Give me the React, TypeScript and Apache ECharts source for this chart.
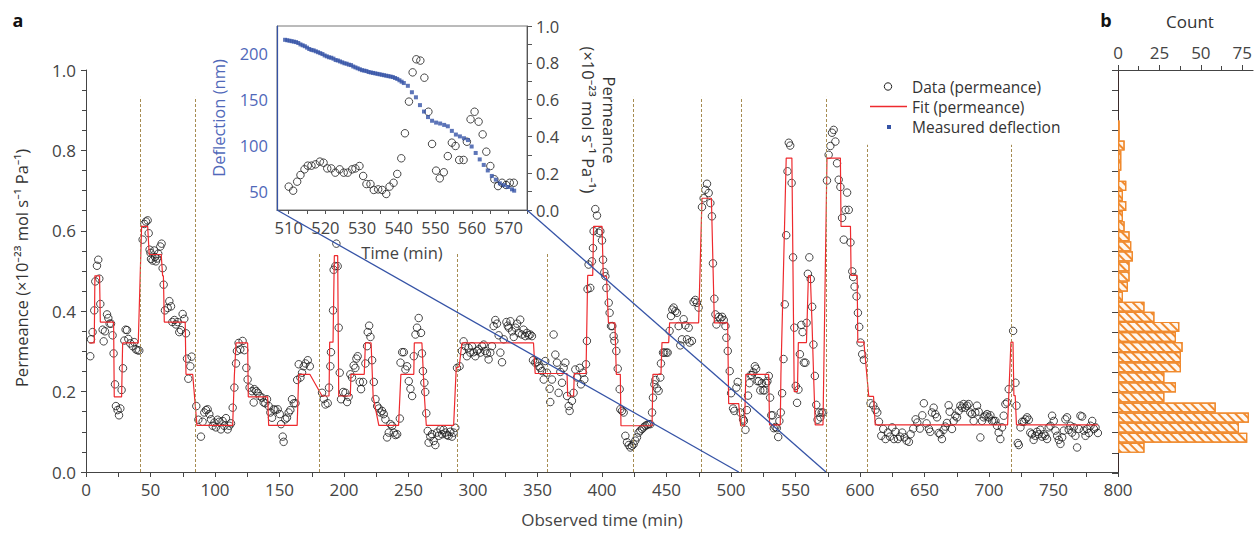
import React, { useEffect, useRef } from "react";
import * as echarts from "echarts";

// ---------- DATA ----------
// Permeance data (time in min, permeance ×10^-23 mol s^-1 Pa^-1), read in segments
const permSegA: [number, number][] = [
  [3.3,0.288],[3.9,0.330],[5.1,0.348],[6.4,0.402],[7.2,0.474],[8.5,0.513],[9.5,0.528],[10.3,0.481],[11.1,0.418],[12.9,0.354],
  [13.7,0.325],[14.7,0.350],[16.3,0.392],[17.3,0.383],[18.3,0.369],[19.4,0.369],[20.6,0.340],[21.4,0.295],[22.5,0.218],[23.2,0.164],
  [24.5,0.154],[25.6,0.141],[26.6,0.158],[27.6,0.204],[28.7,0.258],[29.7,0.327],[30.7,0.354],[31.8,0.353],[32.8,0.331],[34.3,0.320],
  [36.2,0.313],[37.4,0.323],[38.7,0.305],[40.0,0.303],[41.3,0.302],[43.9,0.578],[45.2,0.617],[46.5,0.623],[47.8,0.626],[48.6,0.594],
  [49.3,0.553],[50.0,0.545],[50.4,0.530],[51.6,0.526],[52.9,0.551],[53.5,0.535],[54.2,0.524],[55.0,0.531],[56.0,0.543],[57.6,0.561],
  [58.6,0.568],[59.4,0.507],[60.2,0.466],[61.2,0.402],[63.3,0.408],[64.6,0.425],[65.9,0.412],[66.9,0.373],[68.5,0.378],[69.7,0.367],
  [71.0,0.373],[72.3,0.348],[73.6,0.353],[74.9,0.393],[76.2,0.381],[77.5,0.345],[78.3,0.282],[79.3,0.232],[80.9,0.263],[81.9,0.287],
  [85.5,0.164],[87.1,0.130],[89.1,0.088],[90.4,0.125],[91.7,0.148],[93.0,0.154],[94.3,0.156],[95.6,0.144],[96.9,0.131],[98.2,0.115],
  [99.5,0.123],[100.7,0.111],[102.0,0.130],[103.3,0.125],[104.6,0.106],[105.9,0.127],[107.2,0.115],[108.5,0.134],[109.8,0.106],[111.1,0.115],
  [112.4,0.121],[113.7,0.160],[115.0,0.210],[116.3,0.270],[117.0,0.301],[118.3,0.321],[119.6,0.305],[121.4,0.326],[122.7,0.303],[124.3,0.259],
  [125.3,0.230],[126.8,0.210]
];
const permSegB: [number, number][] = [
  [128.7,0.201],[130.0,0.173],[130.5,0.206],[132.0,0.201],[133.1,0.197],[134.6,0.189],[136.4,0.185],[137.7,0.173],[139.0,0.171],[140.3,0.181],
  [141.6,0.164],[142.9,0.148],[144.2,0.135],[145.5,0.156],[146.8,0.154],[148.6,0.156],[150.2,0.144],[151.2,0.119],[152.5,0.088],[153.2,0.075],
  [154.5,0.131],[155.8,0.135],[157.1,0.148],[158.4,0.154],[159.7,0.181],[161.1,0.171],[162.4,0.171],[163.7,0.229],[164.9,0.268],[166.2,0.235],
  [167.5,0.247],[168.8,0.263],[170.1,0.270],[171.9,0.278],[173.5,0.263],[183.0,0.197],[184.3,0.182],[185.6,0.168],[187.4,0.171],[188.4,0.210],
  [189.4,0.263],[189.9,0.298],[191.5,0.402],[192.0,0.503],[193.3,0.512],[194.1,0.568],[195.1,0.512],[195.9,0.359],[196.7,0.247],[197.7,0.181],
  [199.3,0.199],[201.1,0.197],[202.4,0.174],[203.6,0.187],[204.9,0.243],[206.2,0.235],[207.5,0.265],[208.8,0.259],[209.6,0.282],[210.6,0.288],
  [212.2,0.224],[213.2,0.206],[214.8,0.224],[216.6,0.270],[217.9,0.313],[218.4,0.348],[219.5,0.364],[220.5,0.336],[221.8,0.278],[223.1,0.224],
  [224.4,0.181],[225.7,0.164],[227.0,0.158],[228.3,0.148],[229.5,0.152],[230.8,0.144],[232.1,0.131],[233.4,0.086],[234.7,0.098],[236.0,0.119],
  [237.3,0.115],[238.6,0.098],[239.9,0.092],[241.2,0.094],[243.3,0.133],[243.8,0.272],[245.1,0.298],[246.4,0.298],[247.6,0.255],[248.9,0.263],
  [250.2,0.226],[251.5,0.207],[252.8,0.189],[254.1,0.288],[255.4,0.342],[256.6,0.359],[257.9,0.383]
];
const permSegC: [number, number][] = [
  [259.7,0.346],[260.4,0.295],[261.2,0.251],[262.3,0.222],[263.0,0.199],[263.8,0.146],[264.9,0.102],[265.6,0.073],[266.9,0.088],[268.2,0.094],
  [269.5,0.077],[270.8,0.067],[272.1,0.098],[273.4,0.090],[274.7,0.106],[276.0,0.094],[277.2,0.105],[278.5,0.098],[279.8,0.092],[281.1,0.090],
  [282.4,0.100],[283.7,0.088],[285.0,0.098],[286.3,0.110],[287.6,0.259],[289.6,0.263],[291.4,0.301],[292.7,0.325],[294.0,0.313],[295.3,0.288],
  [296.6,0.309],[297.9,0.297],[299.2,0.313],[300.5,0.298],[301.8,0.288],[303.1,0.301],[304.4,0.305],[305.7,0.297],[307.0,0.313],[308.3,0.317],
  [309.5,0.301],[310.8,0.295],[312.1,0.280],[313.4,0.297],[314.7,0.313],[316.0,0.363],[317.3,0.378],[318.6,0.369],[319.9,0.340],[321.2,0.297],
  [322.5,0.273],[323.8,0.330],[325.9,0.373],[326.9,0.364],[327.7,0.359],[329.0,0.375],[330.3,0.350],[331.6,0.336],[332.9,0.359],[334.2,0.369],
  [335.4,0.346],[336.6,0.379],[337.9,0.342],[339.2,0.354],[340.5,0.338],[341.8,0.346],[343.1,0.340],[344.4,0.342],[345.7,0.338],[346.5,0.278],
  [348.3,0.272],[349.6,0.273],[350.9,0.263],[352.2,0.259],[353.5,0.251],[354.8,0.230],[356.0,0.276],[357.3,0.247],[359.4,0.207],[359.9,0.174],
  [361.2,0.230],[362.5,0.342],[363.8,0.292],[365.1,0.272],[366.4,0.197],[367.7,0.249],[369.0,0.222],[370.3,0.259],[371.6,0.272],[372.9,0.189],
  [374.2,0.164],[374.9,0.152],[376.7,0.177],[378.0,0.197],[379.3,0.255],[380.6,0.235],[382.7,0.259],[383.7,0.218],[385.3,0.247],[386.3,0.230],
  [387.6,0.268],[388.3,0.326],[388.8,0.455],[389.6,0.516]
];
const permSegD: [number, number][] = [
  [390.9,0.458],[392.2,0.524],[393.0,0.557],[393.5,0.599],[394.8,0.654],[396.1,0.638],[397.4,0.595],[398.7,0.599],[400.0,0.576],[400.8,0.528],
  [401.8,0.497],[402.6,0.487],[403.4,0.458],[405.2,0.421],[405.9,0.396],[407.0,0.363],[408.0,0.363],[409.0,0.338],[409.6,0.326],[411.1,0.301],
  [412.2,0.257],[413.7,0.206],[414.2,0.156],[415.5,0.152],[416.8,0.148],[418.1,0.090],[419.4,0.074],[420.7,0.067],[422.0,0.061],[423.2,0.065],
  [424.5,0.069],[425.8,0.078],[427.1,0.086],[428.4,0.098],[429.7,0.103],[431.0,0.107],[432.3,0.111],[433.6,0.115],[434.9,0.117],[436.2,0.119],
  [437.5,0.119],[438.8,0.148],[439.5,0.185],[440.6,0.218],[441.4,0.229],[442.6,0.208],[443.9,0.202],[445.2,0.235],[445.7,0.270],[447.3,0.297],
  [448.3,0.297],[449.9,0.297],[450.9,0.297],[452.4,0.351],[453.5,0.388],[454.5,0.404],[455.5,0.409],[456.8,0.400],[458.1,0.396],[459.4,0.363],
  [460.7,0.315],[462.0,0.330],[463.3,0.380],[464.6,0.365],[465.9,0.330],[467.2,0.359],[467.9,0.322],[469.7,0.326],[471.0,0.423],[472.3,0.428],
  [473.6,0.421],[474.9,0.409],[477.5,0.659],[478.8,0.681],[480.1,0.702],[481.4,0.717],[482.7,0.694],[484.0,0.669],[485.2,0.636],[486.0,0.519],
  [487.1,0.431],[487.9,0.392],[488.7,0.367],[490.5,0.386],[491.8,0.381],[493.1,0.386],[494.4,0.378],[495.7,0.363],[496.4,0.334],[497.5,0.301],
  [499.0,0.251],[500.1,0.196],[501.6,0.158],[502.6,0.152],[504.2,0.210],[505.2,0.224],[507.3,0.148],[509.4,0.131]
];
// Inset window (also part of the main record)
const insetPerm: [number, number][] = [
  [510.0,0.127],[511.2,0.105],[512.3,0.154],[513.2,0.190],[514.3,0.221],[515.2,0.241],[516.2,0.241],[517.3,0.248],[518.5,0.263],[519.5,0.257],
  [520.5,0.226],[521.6,0.226],[522.7,0.203],[523.9,0.221],[525.0,0.203],[526.1,0.203],[527.3,0.221],[528.2,0.226],[529.3,0.239],[530.3,0.185],
  [531.2,0.141],[532.3,0.141],[533.2,0.109],[534.4,0.112],[535.5,0.109],[536.6,0.087],[537.5,0.127],[538.6,0.148],[539.6,0.196],[540.7,0.281],
  [541.7,0.417],[542.8,0.589],[543.8,0.748],[544.8,0.819],[545.9,0.812],[547.0,0.719],[548.1,0.534],[549.1,0.359],[550.2,0.214],[551.2,0.172],
  [552.3,0.205],[553.4,0.293],[554.5,0.366],[555.5,0.348],[556.5,0.272],[557.7,0.272],[558.6,0.371],[559.6,0.493],[560.7,0.534],[561.8,0.480],
  [562.9,0.411],[563.9,0.317],[565.0,0.239],[566.1,0.167],[567.1,0.130],[568.2,0.148],[569.3,0.136],[570.3,0.148],[571.4,0.148]
];
const permSegE: [number, number][] = [
  [574.4,0.725],[575.7,0.789],[577.0,0.811],[578.3,0.844],[579.6,0.851],[580.9,0.822],[582.2,0.768],[583.5,0.727],[584.8,0.709],[586.1,0.632],
  [587.4,0.578],[588.7,0.652],[590.0,0.695],[591.3,0.652],[592.6,0.571],[594.0,0.499],[594.7,0.485],[595.8,0.461],[597.3,0.437],[598.4,0.396],
  [599.4,0.361],[600.4,0.322],[601.7,0.293],[603.0,0.279],[608.2,0.171],[610.3,0.166],[612.1,0.155],[613.4,0.148],[614.7,0.125],[616.5,0.090],
  [618.0,0.107],[619.8,0.082],[621.6,0.098],[623.2,0.088],[625.0,0.111],[626.3,0.082],[627.6,0.100],[629.4,0.082],[630.9,0.088],[632.7,0.098],
  [634.5,0.086],[636.1,0.078],[637.9,0.075],[639.2,0.094],[641.3,0.108],[643.1,0.131],[644.4,0.123],[646.4,0.108],[648.3,0.141],[649.5,0.171],
  [651.6,0.121],[653.4,0.107]
];
const permSegF: [number, number][] = [
  [654.5,0.100],[655.8,0.148],[657.1,0.160],[658.4,0.144],[659.7,0.136],[661.0,0.097],[662.2,0.094],[663.5,0.082],[664.8,0.105],[666.1,0.113],
  [667.4,0.122],[668.7,0.166],[669.5,0.150],[671.3,0.107],[672.6,0.127],[673.9,0.140],[675.2,0.136],[676.5,0.152],[677.8,0.165],[679.1,0.160],
  [680.3,0.169],[681.6,0.160],[682.9,0.165],[684.2,0.169],[685.5,0.148],[686.8,0.144],[688.1,0.127],[689.4,0.148],[690.7,0.165],[692.0,0.150],
  [693.3,0.086],[694.6,0.127],[695.9,0.136],[697.2,0.140],[698.5,0.144],[699.8,0.136],[701.1,0.141],[702.4,0.127],[703.7,0.127],[705.0,0.127],
  [706.2,0.115],[707.5,0.098],[708.8,0.082],[710.1,0.111],[711.4,0.140],[712.7,0.169],[714.0,0.173],[715.3,0.206],[718.7,0.351],[720.5,0.222],
  [721.3,0.165],[722.3,0.072],[723.1,0.067],[724.4,0.111],[725.7,0.125],[727.0,0.125],[728.3,0.131],[729.6,0.136],[730.9,0.130],[732.0,0.098],
  [733.3,0.094],[734.6,0.080],[735.9,0.090],[737.2,0.100],[738.5,0.094],[739.8,0.105],[741.1,0.088],[742.4,0.094],[743.7,0.090],[745.0,0.082],
  [746.3,0.111],[747.6,0.115],[748.9,0.140],[750.2,0.127],[751.5,0.103],[752.8,0.090],[754.1,0.080],[755.4,0.070],[756.7,0.086],[758.0,0.103],
  [759.2,0.131],[760.5,0.136],[761.8,0.105],[763.1,0.115],[764.4,0.098],[765.7,0.111],[767.0,0.090],[768.3,0.061],[769.6,0.107],[770.9,0.140],
  [772.2,0.138],[773.5,0.103],[774.8,0.090],[776.1,0.107],[777.4,0.097],[778.7,0.115],[780.0,0.127],[781.3,0.107],[782.6,0.111],[784.4,0.097]
];

// Step fit (permeance)
const fitPoints: [number, number][] = [
  [2.6,0.321],[6.4,0.321],[6.9,0.488],[10.5,0.488],[11.1,0.373],[21.4,0.373],[21.9,0.187],[27.6,0.187],[28.4,0.321],[40.5,0.321],
  [43.1,0.611],[47.8,0.611],[49.0,0.541],[58.3,0.541],[59.4,0.488],[60.0,0.488],[60.7,0.373],[76.9,0.373],[77.5,0.243],[82.7,0.243],
  [86.0,0.116],[113.7,0.116],[115.0,0.239],[116.3,0.321],[125.3,0.321],[125.8,0.187],[140.8,0.187],[141.6,0.116],[163.7,0.116],[164.9,0.243],
  [173.5,0.243],[183.0,0.189],[188.4,0.189],[188.9,0.323],[191.5,0.323],[192.5,0.538],[195.1,0.538],[195.9,0.189],[204.9,0.189],[205.4,0.243],
  [215.7,0.243],[216.6,0.321],[221.0,0.321],[222.6,0.187],[227.0,0.116],[242.3,0.116],[244.1,0.243],[254.1,0.243],[254.5,0.321],[260.4,0.321],
  [262.3,0.189],[263.8,0.116],[285.0,0.116],[287.0,0.259],[289.3,0.262],[291.4,0.321],[346.9,0.321],[348.2,0.245],[372.9,0.245],[373.4,0.189],
  [378.0,0.189],[378.5,0.245],[387.6,0.245],[388.9,0.489],[392.8,0.489],[393.5,0.611],[400.0,0.611],[401.0,0.487],[403.5,0.487],[405.0,0.371],
  [410.0,0.371],[411.1,0.243],[414.2,0.243],[414.7,0.115],[438.8,0.115],[439.5,0.243],[445.7,0.243],[446.5,0.322],[451.7,0.322],[452.4,0.371],
  [474.9,0.371],[477.5,0.681],[484.8,0.681],[487.1,0.371],[497.4,0.371],[498.2,0.17],[506.0,0.17],[507.5,0.115],[510.5,0.115],[511.5,0.243],
  [529.2,0.243],[529.9,0.117],[538.2,0.117],[538.7,0.243],[542.8,0.781],[547.2,0.781],[549.0,0.2],[551.5,0.2],[552.2,0.322],[558.5,0.322],
  [560.0,0.488],[561.5,0.488],[562.8,0.371],[564.0,0.243],[565.3,0.117],[571.3,0.117],[574.4,0.781],[584.8,0.781],[585.3,0.611],[592.6,0.611],
  [593.1,0.489],[597.8,0.489],[598.3,0.323],[603.0,0.323],[606.8,0.188],[610.5,0.188],[611.8,0.117],[714.4,0.117],[717.0,0.323],[718.6,0.323],
  [719.3,0.19],[720.3,0.19],[721.3,0.117],[784.4,0.117]
];

// Event markers (time, top of dashed line)
const eventTimes = [42.3, 84.5, 181.1, 287.6, 357.4, 424.3, 476.8, 507.8, 573.6, 606.0, 717.2];
const eventTops = [0.933, 0.933, 0.546, 0.546, 0.546, 0.933, 0.933, 0.933, 0.933, 0.814, 0.814];

// Inset: measured deflection (time min, nm)
const deflection: [number, number][] = [
  [509.0,215],[509.6,214.5],[510.2,214],[510.8,213.5],[511.4,213],[512.0,212.5],[512.6,211.5],[513.2,210],[513.8,209],[514.4,208],
  [515.0,206.5],[515.6,205],[516.2,204],[516.8,203.5],[517.4,202.5],[518.0,201.5],[518.6,200.5],[519.2,199.5],[519.8,198],[520.4,197],
  [521.0,196],[521.6,195.5],[522.2,194.5],[522.8,193],[523.4,192.5],[524.0,191.5],[524.6,190.5],[525.2,189.5],[525.8,189],[526.4,188],
  [527.0,187.5],[527.6,186],[528.2,185],[528.8,184],[529.4,183],[530.0,182],[530.6,181.5],[531.2,181],[531.8,180],[532.4,179.5],
  [533.0,179],[533.6,178.5],[534.2,178],[534.8,177.5],[535.4,177],[536.0,176.5],[536.6,176],[537.2,175.5],[537.8,175],[538.4,174.5],
  [539.0,173.5],[539.6,172.5],[540.2,171],[540.8,169.5],[541.4,168],[542.5,165],[543.6,158],[544.7,152.5],[545.8,144],[546.9,137],
  [548.0,131],[549.1,127],[550.2,125],[551.3,124],[552.4,122.5],[553.4,121],[554.5,116],[555.6,112],[556.7,110],[557.8,108],
  [558.9,106],[559.9,99],[561.0,92],[562.1,85],[563.2,79],[564.3,73],[565.4,67],[566.5,63],[567.6,59],[568.7,57],
  [569.8,55],[570.9,52.5],[571.5,51]
];

// Histogram (panel b): bin lower edges (width 0.025) and counts
const histBinStarts = [0.05,0.075,0.1,0.125,0.15,0.175,0.2,0.225,0.25,0.275,0.3,0.325,0.35,0.375,0.4,0.425,0.45,0.475,0.5,0.525,0.55,0.575,0.6,0.625,0.65,0.675,0.7,0.725,0.75,0.775,0.8,0.825,0.85];
const histCounts = [16,78,73,79,59,28,35,28,38,38,39,35,37,22,16,3,6,7,7,9,8,7,4,3,5,3,5,1,2,2,4,1,1];

const mainXTicks = { min: 0, max: 800, interval: 50 };
const insetXLabels = [510, 520, 530, 540, 550, 560, 570];
const insetXTicks = [510, 515, 520, 525, 530, 535, 540, 545, 550, 555, 560, 565, 570, 575];
const insetDefLabels = [50, 100, 150, 200];
const countTicks = [0, 25, 50, 75];

// ---------- CHART ----------
const FONT = "'Open Sans', 'Noto Sans', sans-serif";
const AX = "#444";
const BLUE = "#3553a6";
const BLUE_TXT = "#5068b9";
const ORANGE = "#f08a2e";
const RED = "#ee2a2e";
const DASH = "#a68c52";

export default function App() {
  const ref = useRef<HTMLDivElement>(null);
  useEffect(() => {
    if (!ref.current) return;
    const chart = echarts.init(ref.current, undefined, { renderer: "svg" });

    const permData = [...permSegA, ...permSegB, ...permSegC, ...permSegD, ...insetPerm, ...permSegE, ...permSegF];
    const nBins = 40;
    const binCats = Array.from({ length: nBins }, (_, i) => String(i));
    const histData: (number | string)[] = Array.from({ length: nBins }, () => "-");
    histBinStarts.forEach((b, k) => {
      histData[Math.round(b / 0.025)] = histCounts[k];
    });

    const axisCommon = {
      splitLine: { show: false },
      minorSplitLine: { show: false },
    };

    const option: any = {
      animation: false,
      backgroundColor: "#fff",
      textStyle: { fontFamily: FONT },
      grid: [
        { left: 86, top: 70, width: 1032, height: 403 },
        { left: 1118, top: 70, width: 137, height: 403 },
        { left: 277, top: 26, width: 250, height: 184, show: true, borderColor: "#777", borderWidth: 1, backgroundColor: "transparent" },
      ],
      xAxis: [
        {
          gridIndex: 0, type: "value", min: mainXTicks.min, max: mainXTicks.max, interval: mainXTicks.interval,
          axisLine: { show: true, onZero: false, lineStyle: { color: AX, width: 1 } },
          axisTick: { show: true, length: 5, lineStyle: { color: AX } },
          minorTick: { show: true, splitNumber: 2, length: 5, lineStyle: { color: AX } },
          axisLabel: { fontSize: 17, color: AX, margin: 9, fontFamily: FONT },
          name: "Observed time (min)", nameLocation: "middle", nameGap: 39,
          nameTextStyle: { fontSize: 17, color: AX, fontFamily: FONT },
          ...axisCommon,
        },
        {
          gridIndex: 1, type: "value", position: "top", min: 0, max: 81.5, interval: 25,
          axisLine: { show: true, onZero: false, lineStyle: { color: AX } },
          axisTick: { show: true, length: 5, lineStyle: { color: AX }, customValues: countTicks },
          minorTick: { show: true, splitNumber: 2, length: 4, lineStyle: { color: AX } },
          axisLabel: { customValues: countTicks, fontSize: 17, color: AX, margin: 9, fontFamily: FONT },
          ...axisCommon,
        },
        {
          gridIndex: 2, type: "value", min: 506.8, max: 575,
          axisLine: { show: true, onZero: false, lineStyle: { color: "#555" } },
          axisTick: { show: true, length: 4, customValues: insetXTicks, lineStyle: { color: "#555" } },
          axisLabel: { customValues: insetXLabels, fontSize: 16.5, color: AX, margin: 9, fontFamily: FONT },
          name: "Time (min)", nameLocation: "middle", nameGap: 34,
          nameTextStyle: { fontSize: 16.5, color: AX, fontFamily: FONT },
          ...axisCommon,
        },
      ],
      yAxis: [
        {
          gridIndex: 0, type: "value", min: 0, max: 1, interval: 0.2,
          axisLine: { show: true, onZero: false, lineStyle: { color: AX } },
          axisTick: { show: true, length: 5, lineStyle: { color: AX } },
          minorTick: { show: true, splitNumber: 4, length: 4, lineStyle: { color: AX } },
          axisLabel: { formatter: (v: number) => v.toFixed(1), fontSize: 17, color: AX, margin: 10, fontFamily: FONT },
          ...axisCommon,
        },
        { gridIndex: 1, type: "category", data: binCats, show: false, boundaryGap: true },
        {
          gridIndex: 1, type: "value", min: 0, max: 1, interval: 0.05, position: "left",
          axisLine: { show: true, onZero: false, lineStyle: { color: "#3a2a2a" } },
          axisTick: { show: true, length: 6, lineStyle: { color: AX } },
          axisLabel: { show: false },
          ...axisCommon,
        },
        {
          gridIndex: 2, type: "value", min: 30, max: 230, position: "left",
          axisLine: { show: true, onZero: false, lineStyle: { color: BLUE, width: 1.2 } },
          axisTick: { show: false },
          axisLabel: { customValues: insetDefLabels, fontSize: 16.5, color: BLUE_TXT, margin: 9, fontFamily: FONT },
          name: "Deflection (nm)", nameLocation: "middle", nameGap: 50,
          nameTextStyle: { fontSize: 16.5, color: BLUE_TXT, fontFamily: FONT },
          ...axisCommon,
        },
        {
          gridIndex: 2, type: "value", min: 0, max: 1, interval: 0.2, position: "right",
          axisLine: { show: true, onZero: false, lineStyle: { color: "#555" } },
          axisTick: { show: true, length: 5, lineStyle: { color: "#555" } },
          minorTick: { show: true, splitNumber: 2, length: 5, lineStyle: { color: "#555" } },
          axisLabel: { formatter: (v: number) => v.toFixed(1), fontSize: 16.5, color: AX, margin: 9, fontFamily: FONT },
          ...axisCommon,
        },
      ],
      series: [
        {
          name: "Data (permeance)", type: "scatter", xAxisIndex: 0, yAxisIndex: 0,
          data: permData, symbol: "circle", symbolSize: 7.5,
          itemStyle: { color: "rgba(0,0,0,0)", borderColor: "#1c1c1c", borderWidth: 1 },
          silent: true, z: 2,
        },
        {
          name: "Fit (permeance)", type: "line", xAxisIndex: 0, yAxisIndex: 0,
          data: fitPoints, showSymbol: false, symbol: "none",
          lineStyle: { color: RED, width: 1.2 }, silent: true, z: 3,
          markLine: {
            silent: true, symbol: ["none", "none"], label: { show: false },
            lineStyle: { type: [3, 2], color: DASH, width: 1 },
            emphasis: { disabled: true },
            data: eventTimes.map((t, i) => [{ coord: [t, 0] }, { coord: [t, eventTops[i]] }]),
          },
        },
        {
          name: "Count", type: "bar", xAxisIndex: 1, yAxisIndex: 1,
          data: histData, barWidth: "100%", barCategoryGap: 0,
          itemStyle: {
            color: "#fff7ef", borderColor: ORANGE, borderWidth: 1.2,
            decal: { symbol: "rect", symbolSize: 1, color: ORANGE, dashArrayX: [1, 0], dashArrayY: [1.2, 3.6], rotation: Math.PI / 4 },
          },
          silent: true,
        },
        {
          name: "Inset permeance", type: "scatter", xAxisIndex: 2, yAxisIndex: 4,
          data: insetPerm, symbol: "circle", symbolSize: 7.5,
          itemStyle: { color: "rgba(0,0,0,0)", borderColor: "#1c1c1c", borderWidth: 1 },
          silent: true,
        },
        {
          name: "Measured deflection", type: "scatter", xAxisIndex: 2, yAxisIndex: 3,
          data: deflection, symbol: "rect", symbolSize: 4,
          itemStyle: { color: BLUE }, silent: true,
        },
      ],
    };
    chart.setOption(option);

    const a = chart.convertToPixel({ xAxisIndex: 2, yAxisIndex: 4 } as any, [506.8, 0]) as number[];
    const b = chart.convertToPixel({ xAxisIndex: 2, yAxisIndex: 4 } as any, [575, 0]) as number[];
    const c = chart.convertToPixel({ xAxisIndex: 0, yAxisIndex: 0 } as any, [506, 0]) as number[];
    const d = chart.convertToPixel({ xAxisIndex: 0, yAxisIndex: 0 } as any, [573.6, 0]) as number[];

    const txt = (text: string, x: number, y: number, extra: any = {}, rot = 0) => ({
      type: "text", x, y, rotation: rot, silent: true,
      style: {
        text, fontSize: 15, fill: "#333", fontFamily: FONT,
        textAlign: extra.align || "left", textVerticalAlign: "middle",
        align: extra.align || "left", verticalAlign: "middle",
        ...extra.style,
      },
    });

    chart.setOption({
      graphic: [
        { type: "line", silent: true, shape: { x1: a[0], y1: a[1], x2: c[0], y2: c[1] }, style: { stroke: BLUE, lineWidth: 1.3 }, z: 10 },
        { type: "line", silent: true, shape: { x1: b[0], y1: b[1], x2: d[0], y2: d[1] }, style: { stroke: BLUE, lineWidth: 1.3 }, z: 10 },
        txt("a", 18, 20, { align: "center", style: { fontSize: 18, fontWeight: "bold", fill: "#111" } }),
        txt("b", 1106, 20, { align: "center", style: { fontSize: 18, fontWeight: "bold", fill: "#111" } }),
        txt("Count", 1190, 21, { align: "center", style: { fontSize: 17, fill: "#333" } }),
        txt("Permeance (×10⁻²³ mol s⁻¹ Pa⁻¹)", 21, 268, { align: "center", style: { fontSize: 16.5, fill: "#333" } }, Math.PI / 2),
        txt("Permeance", 609, 120, { align: "center", style: { fontSize: 16.5, fill: "#333" } }, -Math.PI / 2),
        txt("(×10⁻²³ mol s⁻¹ Pa⁻¹)", 588, 120, { align: "center", style: { fontSize: 16.5, fill: "#333" } }, -Math.PI / 2),
        { type: "circle", silent: true, shape: { cx: 888, cy: 86.5, r: 3.7 }, style: { fill: "none", stroke: "#1c1c1c", lineWidth: 1 } },
        { type: "line", silent: true, shape: { x1: 870, y1: 106.5, x2: 907, y2: 106.5 }, style: { stroke: RED, lineWidth: 1.5 } },
        { type: "rect", silent: true, shape: { x: 887, y: 125, width: 4, height: 4 }, style: { fill: BLUE } },
        txt("Data (permeance)", 912, 86.5, { style: { fontSize: 15.5 } }),
        txt("Fit (permeance)", 912, 106.5, { style: { fontSize: 15.5 } }),
        txt("Measured deflection", 912, 127, { style: { fontSize: 15.5 } }),
      ],
    });

    return () => chart.dispose();
  }, []);

  return <div ref={ref} style={{ position: "fixed", left: 0, top: 0, width: 1255, height: 533 }} />;
}
